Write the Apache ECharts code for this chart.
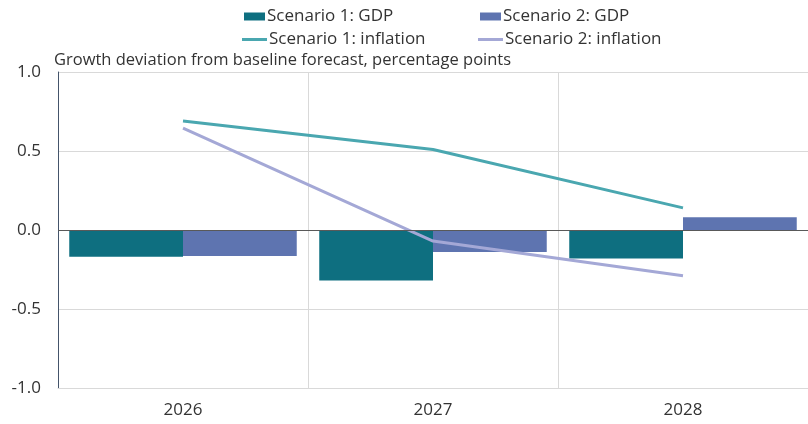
<!DOCTYPE html>
<html>
<head>
<meta charset="utf-8">
<script src="https://cdn.jsdelivr.net/npm/echarts@6/dist/echarts.min.js"></script>
<style>
  html, body { margin: 0; padding: 0; background: #fff; }
  #chart { width: 808px; height: 424px; }
</style>
</head>
<body>
<div id="chart"></div>
<script>
const years = ['2026', '2027', '2028'];
const s1Gdp = [-0.17, -0.32, -0.18];
const s2Gdp = [-0.165, -0.14, 0.08];
const s1Infl = [0.69, 0.51, 0.14];
const s2Infl = [0.645, -0.07, -0.29];

const font = '"Open Sans", sans-serif';

const myChart = echarts.init(document.getElementById('chart'));

function legendAt(name, left, top, isLine) {
  return {
    data: [name],
    left: left,
    top: top,
    padding: 0,
    icon: 'rect',
    itemWidth: isLine ? 25 : 21,
    itemHeight: isLine ? 3 : 8,
    itemGap: 0,
    textStyle: { fontFamily: font, fontSize: 17, color: '#333', padding: [0, 0, 0, -3] }
  };
}

let option = {
  animation: false,
  title: {
    text: 'Growth deviation from baseline forecast, percentage points',
    left: 49,
    top: 47,
    textStyle: { fontFamily: font, fontSize: 16.5, fontWeight: 'normal', color: '#333' }
  },
  legend: [
    legendAt('Scenario 1: GDP', 244, 8, false),
    legendAt('Scenario 2: GDP', 480, 8, false),
    legendAt('Scenario 1: inflation', 242, 31, true),
    legendAt('Scenario 2: inflation', 478, 31, true)
  ],
  grid: { left: 58, right: 0, top: 72, bottom: 36 },
  xAxis: {
    type: 'category',
    data: years,
    axisLine: { onZero: false, lineStyle: { color: '#d9d9d9' } },
    axisTick: { show: false },
    axisLabel: { margin: 14, fontFamily: font, fontSize: 17, color: '#333' },
    splitLine: { show: true, lineStyle: { color: '#d9d9d9' } }
  },
  yAxis: {
    type: 'value',
    min: -1,
    max: 1,
    interval: 0.5,
    axisLine: { show: true, lineStyle: { color: '#44546a' } },
    axisTick: { show: false },
    axisLabel: {
      margin: 17,
      fontFamily: font,
      fontSize: 17,
      color: '#333',
      formatter: v => v.toFixed(1)
    },
    splitLine: { lineStyle: { color: '#d9d9d9' } }
  },
  series: [
    {
      name: 'Scenario 1: GDP',
      type: 'bar',
      data: s1Gdp,
      barGap: 0,
      barCategoryGap: '9%',
      itemStyle: { color: '#0e6f80' },
      markLine: {
        silent: true,
        symbol: 'none',
        label: { show: false },
        lineStyle: { color: '#595959', type: 'solid', width: 1 },
        data: [{ yAxis: 0 }]
      }
    },
    {
      name: 'Scenario 2: GDP',
      type: 'bar',
      data: s2Gdp,
      itemStyle: { color: '#5e74b0' }
    },
    {
      name: 'Scenario 1: inflation',
      type: 'line',
      data: s1Infl,
      symbol: 'none',
      lineStyle: { color: '#4aa7b0', width: 3 },
      itemStyle: { color: '#4aa7b0' }
    },
    {
      name: 'Scenario 2: inflation',
      type: 'line',
      data: s2Infl,
      symbol: 'none',
      lineStyle: { color: '#a4a8d6', width: 3 },
      itemStyle: { color: '#a4a8d6' }
    }
  ]
};

myChart.setOption(option);
</script>
</body>
</html>
